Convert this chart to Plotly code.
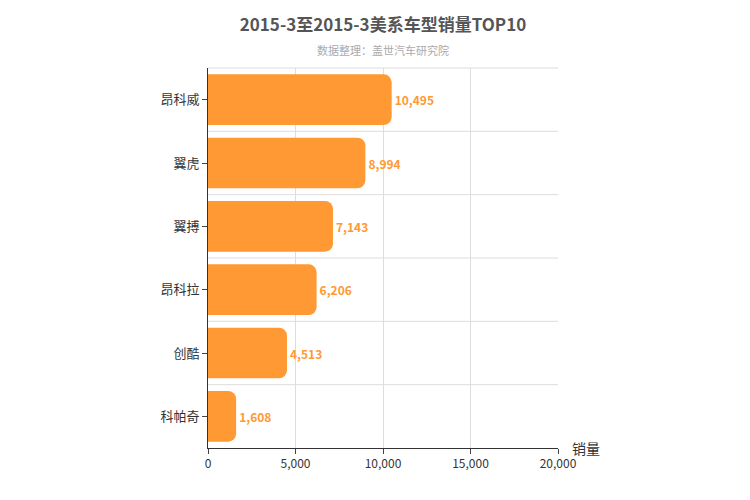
import plotly.graph_objects as go

categories = ["昂科威", "翼虎", "翼搏", "昂科拉", "创酷", "科帕奇"]
values = [10495, 8994, 7143, 6206, 4513, 1608]
tick_vals = [0, 5000, 10000, 15000, 20000]
tick_text = ["0", "5,000", "10,000", "15,000", "20,000"]

fig = go.Figure(go.Bar(
    x=values, y=categories, orientation="h",
    marker=dict(color="#ff9933", line=dict(width=0)),
    width=0.8,
    text=[f"<b>{v:,}</b>" for v in values], textposition="outside",
    textfont=dict(color="#ff9933", size=12, family="Noto Sans CJK SC"),
    cliponaxis=False,
))
fig.update_layout(
    width=750, height=500, plot_bgcolor="white", paper_bgcolor="white",
    margin=dict(l=200, r=200, t=60, b=60, autoexpand=False),
    barcornerradius=8,
    font=dict(family="Noto Sans CJK SC", color="#333"),
    title=dict(text="<b>2015-3至2015-3美系车型销量TOP10</b>", x=0.5, y=0.965, xanchor="center",
               yanchor="middle", font=dict(size=17, color="#555")),
    showlegend=False,
    annotations=[
        dict(text="数据整理：盖世汽车研究院", x=0.5, y=1, xref="paper", yref="paper",
             yanchor="middle", yshift=18, showarrow=False, font=dict(size=11, color="#aaa")),
        dict(text="销量", x=1.0, y=0, xref="paper", yref="paper", xanchor="left", yanchor="middle",
             xshift=12, showarrow=False, font=dict(size=14, color="#333")),
    ],
    xaxis=dict(range=[0, 20000], tickvals=tick_vals, ticktext=tick_text, showgrid=True,
               gridcolor="#ddd", zeroline=False, showline=True, linecolor="#333",
               ticks="outside", ticklen=5, tickfont=dict(size=12, color="#333"), automargin=False),
    yaxis=dict(categoryorder="array", categoryarray=categories[::-1], showgrid=False,
               showline=True, linecolor="#333", ticks="outside", ticklen=5, automargin=False,
               tickfont=dict(size=13, color="#333")),
)
fig.add_shape(type="line", xref="paper", yref="paper", x0=0, x1=1, y0=1, y1=1, line=dict(color="#ddd", width=1))
for i in range(1, 6):
    fig.add_shape(type="line", xref="paper", yref="paper", x0=0, x1=1, y0=i/6, y1=i/6,
                  line=dict(color="#ddd", width=1), layer="below")
fig.write_html("out.html")
